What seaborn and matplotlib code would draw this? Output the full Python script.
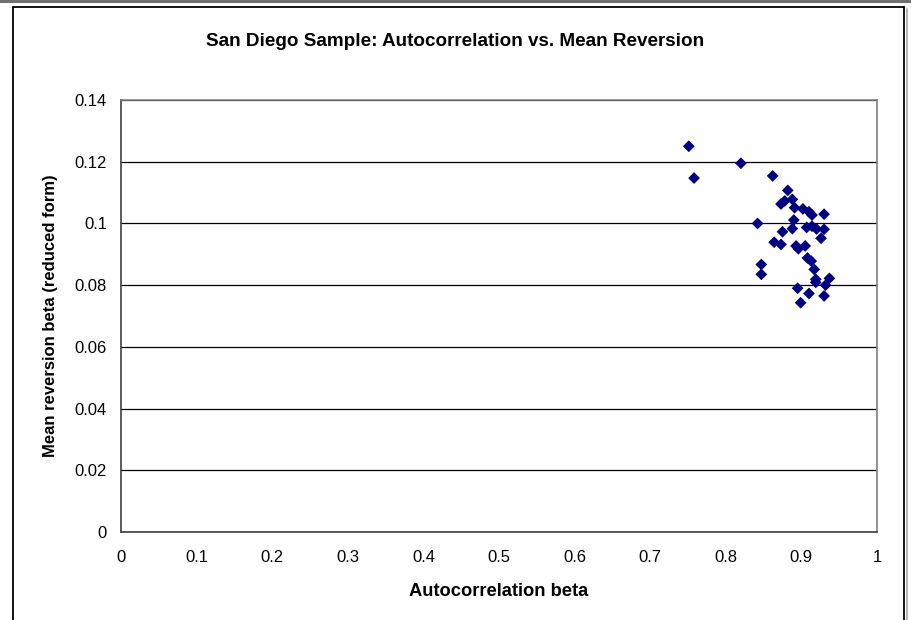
import pandas as pd
import matplotlib.pyplot as plt
import seaborn as sns
from matplotlib.lines import Line2D

# values
autocorr = [0.751, 0.758, 0.820, 0.862, 0.882, 0.873, 0.878, 0.888, 0.891,
            0.902, 0.910, 0.914, 0.930, 0.842, 0.890, 0.875, 0.888, 0.907,
            0.914, 0.920, 0.930, 0.926, 0.864, 0.873, 0.893, 0.896, 0.905,
            0.908, 0.913, 0.917, 0.847, 0.847, 0.919, 0.937, 0.919, 0.932,
            0.895, 0.910, 0.930, 0.899]
mean_rev = [0.1250, 0.1147, 0.1195, 0.1154, 0.1107, 0.1063, 0.1073, 0.1078, 0.1051,
            0.1047, 0.1038, 0.1027, 0.1030, 0.1000, 0.1011, 0.0973, 0.0983, 0.0987,
            0.0991, 0.0982, 0.0981, 0.0952, 0.0939, 0.0932, 0.0927, 0.0918, 0.0927,
            0.0888, 0.0878, 0.0851, 0.0867, 0.0835, 0.0819, 0.0822, 0.0809, 0.0800,
            0.0790, 0.0773, 0.0765, 0.0743]
x_ticks = [0, 0.1, 0.2, 0.3, 0.4, 0.5, 0.6, 0.7, 0.8, 0.9, 1]
y_ticks = [0, 0.02, 0.04, 0.06, 0.08, 0.1, 0.12, 0.14]
x_labels = ["0", "0.1", "0.2", "0.3", "0.4", "0.5", "0.6", "0.7", "0.8", "0.9", "1"]
y_labels = ["0", "0.02", "0.04", "0.06", "0.08", "0.1", "0.12", "0.14"]

df = pd.DataFrame({"Autocorrelation": autocorr, "MeanReversion": mean_rev})

sns.set_style("white")
plt.rcParams["font.family"] = ["Liberation Sans", "DejaVu Sans"]
plt.rcParams["text.color"] = "black"
plt.rcParams["axes.labelcolor"] = "black"
plt.rcParams["xtick.color"] = "black"
plt.rcParams["ytick.color"] = "black"

fig = plt.figure(figsize=(9.11, 6.2), dpi=100)
ax = fig.add_axes([121 / 911, 1 - 532 / 620, 756 / 911, 432 / 620])

sns.scatterplot(data=df, x="Autocorrelation", y="MeanReversion", ax=ax,
                marker="D", s=36, color="#000080", edgecolor="none", zorder=3)

ax.set_xlim(0, 1)
ax.set_ylim(0, 0.14)
ax.set_xticks(x_ticks)
ax.set_xticklabels(x_labels)
ax.set_yticks(y_ticks)
ax.set_yticklabels(y_labels)

# black horizontal gridlines like the original spreadsheet chart
ax.yaxis.grid(True, color="black", linewidth=0.9)
ax.xaxis.grid(False)
ax.set_axisbelow(True)

for side in ["top", "right"]:
    ax.spines[side].set_color("#808080")
    ax.spines[side].set_linewidth(1.2)
for side in ["left", "bottom"]:
    ax.spines[side].set_color("#404040")
    ax.spines[side].set_linewidth(1.2)

ax.tick_params(axis="both", direction="out", length=5, width=1,
               color="#404040", labelsize=12, pad=5)
ax.tick_params(axis="x", pad=8)

ax.set_xlabel("Autocorrelation beta", fontsize=13.2, fontweight="bold", labelpad=13)
ax.set_ylabel("Mean reversion beta (reduced form)", fontsize=12,
              fontweight="bold", labelpad=12)
fig.text(455 / 911, 1 - 41 / 620,
         "San Diego Sample: Autocorrelation vs. Mean Reversion",
         ha="center", va="center", fontsize=13.6, fontweight="bold")

# outer chart frame
fig.add_artist(Line2D([0, 1], [1 - 1 / 620, 1 - 1 / 620], transform=fig.transFigure,
                      color="#707070", linewidth=2.2))
fig.add_artist(Line2D([13 / 911, 904 / 911], [1 - 7 / 620, 1 - 7 / 620],
                      transform=fig.transFigure, color="black", linewidth=1.3))
fig.add_artist(Line2D([13 / 911, 13 / 911], [0, 1 - 7 / 620],
                      transform=fig.transFigure, color="black", linewidth=1.3))
fig.add_artist(Line2D([904 / 911, 904 / 911], [0, 1 - 7 / 620],
                      transform=fig.transFigure, color="black", linewidth=1.3))
fig.add_artist(Line2D([906.5 / 911, 906.5 / 911], [0, 1 - 9 / 620],
                      transform=fig.transFigure, color="#b0b0b0", linewidth=1.3))

plt.savefig("out.png", dpi=100)
plt.close()
